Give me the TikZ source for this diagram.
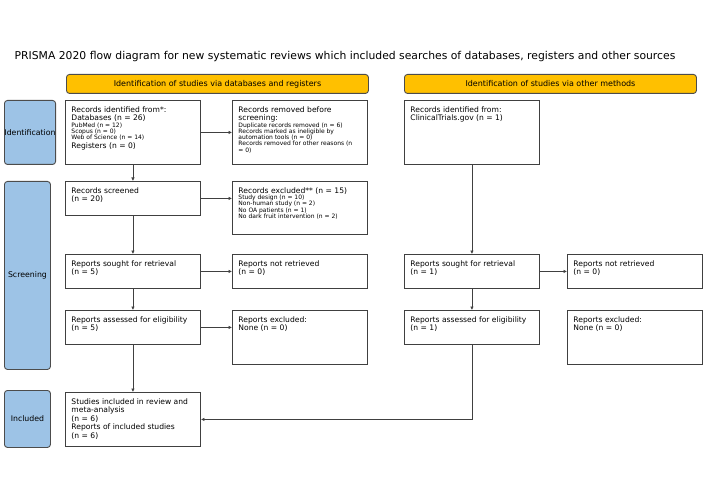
\documentclass[tikz,border=0pt]{standalone}
\usepackage{fontspec}
\setmainfont{DejaVu Sans}
\usetikzlibrary{arrows.meta, positioning}
\definecolor{prismayellow}{HTML}{FFC000}
\definecolor{prismablue}{HTML}{9DC3E6}
\newcommand{\mainsz}{\fontsize{7.6}{8.5}\selectfont}
\newcommand{\subsz}{\fontsize{6}{6.3}\selectfont}
\newcommand{\boxtext}[2]{\begin{minipage}[t][#1][t]{123pt}\raggedright\mainsz #2\end{minipage}}
\tikzset{
  recbox/.style={draw=black!75, line width=0.9pt, inner sep=6pt, anchor=north west},
  phase/.style={draw=black!70, fill=prismablue, line width=0.9pt, rounded corners=3pt, anchor=north west, minimum width=46pt, inner sep=0pt, font=\fontsize{7.8}{9}\selectfont},
  header/.style={draw=black!70, fill=prismayellow, line width=0.9pt, rounded corners=3pt, anchor=north west, minimum height=19pt, inner sep=0pt, font=\fontsize{8}{9}\selectfont},
  flow/.style={draw=black!75, line width=0.9pt, -{Latex[length=3.5pt,width=3.5pt]}}
}

\begin{document}
\begin{tikzpicture}[x=1pt, y=-1pt]
	\useasboundingbox (0,0) rectangle (706,497);
	\node (title) at (345,57) {\fontsize{10.8}{12}\selectfont PRISMA 2020 flow diagram for new systematic reviews which included searches of databases, registers and other sources};
	% headers
	\node[header, minimum width=302pt] (dbhead) at (66,74) {Identification of studies via databases and registers};
	\node[header, minimum width=292pt] (otherhead) at (404,74) {Identification of studies via other methods};
	% phases
	\node[phase, minimum height=64pt] (ident) at (4,100) {Identification};
	\node[phase, minimum height=188pt] (screen) at (4,181) {Screening};
	\node[phase, minimum height=57pt] (incl) at (4,390) {Included};
	% databases and registers
	\node[recbox] (dbfound) at (65,100) {\boxtext{52pt}{Records identified from*:\\
		Databases (n = 26)\\
		{\subsz PubMed (n = 12)\\ Scopus (n = 0)\\ Web of Science (n = 14)\par}
		Registers (n = 0)}};
	\node[recbox] (dbremoved) at (232,100) {\boxtext{52pt}{Records removed before screening:\\
		{\subsz Duplicate records removed (n = 6)\\ Records marked as ineligible by\\ automation tools (n = 0)\\ Records removed for other reasons (n\\ = 0)\par}}};
	\node[recbox] (screened) at (65,181) {\boxtext{22pt}{Records screened\\ (n = 20)}};
	\node[recbox] (excluded) at (232,181) {\boxtext{41pt}{Records excluded** (n = 15)\\
		{\subsz Study design (n = 10)\\ Non-human study (n = 2)\\ No OA patients (n = 1)\\ No dark fruit intervention (n = 2)\par}}};
	\node[recbox] (sought) at (65,254) {\boxtext{22pt}{Reports sought for retrieval\\ (n = 5)}};
	\node[recbox] (notret) at (232,254) {\boxtext{22pt}{Reports not retrieved\\ (n = 0)}};
	\node[recbox] (assessed) at (65,310) {\boxtext{22pt}{Reports assessed for eligibility\\ (n = 5)}};
	\node[recbox] (repexcl) at (232,310) {\boxtext{42pt}{Reports excluded:\\ None (n = 0)}};
	\node[recbox] (included) at (65,392) {\boxtext{42pt}{Studies included in review and meta-analysis\\ (n = 6)\\ Reports of included studies\\ (n = 6)}};
	% other methods
	\node[recbox] (otfound) at (404,100) {\boxtext{52pt}{Records identified from:\\ ClinicalTrials.gov (n = 1)}};
	\node[recbox] (otsought) at (404,254) {\boxtext{22pt}{Reports sought for retrieval\\ (n = 1)}};
	\node[recbox] (otnotret) at (567,254) {\boxtext{22pt}{Reports not retrieved\\ (n = 0)}};
	\node[recbox] (otassessed) at (404,310) {\boxtext{22pt}{Reports assessed for eligibility\\ (n = 1)}};
	\node[recbox] (otexcl) at (567,310) {\boxtext{42pt}{Reports excluded:\\ None (n = 0)}};
	% connectors
	\draw[flow] (dbfound) -- (dbremoved);
	\draw[flow] (dbfound) -- (screened);
	\draw[flow] (screened.east) -- (screened.east -| excluded.west);
	\draw[flow] (screened) -- (sought);
	\draw[flow] (sought) -- (notret);
	\draw[flow] (sought) -- (assessed);
	\draw[flow] (assessed.east) -- (assessed.east -| repexcl.west);
	\draw[flow] (assessed) -- (included);
	\draw[flow] (otfound) -- (otsought);
	\draw[flow] (otsought) -- (otnotret);
	\draw[flow] (otsought) -- (otassessed);
	\draw[flow] (otassessed.south) |- (included.east);
\end{tikzpicture}
\end{document}
